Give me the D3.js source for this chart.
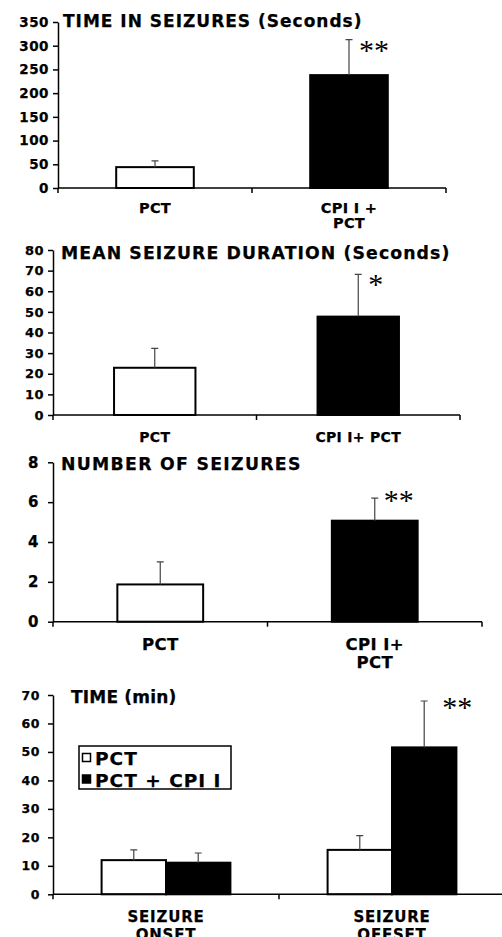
<!DOCTYPE html>
<html>
<head>
<meta charset="utf-8">
<script src="https://cdn.jsdelivr.net/npm/d3@7"></script>
<style>
  body { margin: 0; background: #fff; }
  svg text { font-family: "DejaVu Sans", sans-serif; font-weight: bold; fill: #000; stroke: #000; stroke-width: 0.25; }
  .axis path, .axis line { stroke: #000; stroke-width: 1.5; }
  svg text.star { font-family: "Liberation Serif", serif; font-weight: normal; stroke: none; }
</style>
</head>
<body>
<script>
// panel 1 - time in seizures (seconds)
const timeCats = ["PCT", "CPI I +|PCT"];
const timeMean = [44, 238];
const timeSem = [13, 75];
const timeSig = ["", "**"];
const timeTicks = [0, 50, 100, 150, 200, 250, 300, 350];

// panel 2 - mean seizure duration (seconds)
const durCats = ["PCT", "CPI I+ PCT"];
const durMean = [22.9, 47.7];
const durSem = [9.4, 20.5];
const durSig = ["", "*"];
const durTicks = [0, 10, 20, 30, 40, 50, 60, 70, 80];

// panel 3 - number of seizures
const numCats = ["PCT", "CPI I+|PCT"];
const numMean = [1.87, 5.07];
const numSem = [1.13, 1.13];
const numSig = ["", "**"];
const numTicks = [0, 2, 4, 6, 8];

// panel 4 - onset / offset time (min)
const onsetCats = ["SEIZURE|ONSET", "SEIZURE|OFFSET"];
const seriesNames = ["PCT", "PCT + CPI I"];
const pctMean = [12.0, 15.6];
const pctSem = [3.6, 5.0];
const cpiMean = [11.1, 51.6];
const cpiSem = [3.4, 16.3];
const onsetSig = [["", ""], ["", "**"]];
const onsetTicks = [0, 10, 20, 30, 40, 50, 60, 70];

const W = 502, H = 937;
const svg = d3.select("body").append("svg").attr("width", W).attr("height", H);

const panels = [
  {
    title: "TIME IN SEIZURES (Seconds)", cats: timeCats, ticks: timeTicks,
    series: [{ fill: "#fff", mean: timeMean, sem: timeSem }],
    sig: timeCats.map((c, i) => [timeSig[i]]),
    xr: [58, 446], yr: [188, 22], pad: 0.6,
    titleX: 63, titleY: 27, titleSize: 17, titleLs: 1.0,
    tickSize: 13.5, tickLs: 0.5, tickPad: 4, labSize: 14.5, labLs: 0.3, labDy: 25, labLh: 14.5,
    starDx: 10, starDy: 20, starSize: 30
  },
  {
    title: "MEAN SEIZURE DURATION (Seconds)", cats: durCats, ticks: durTicks,
    series: [{ fill: "#fff", mean: durMean, sem: durSem }],
    sig: durCats.map((c, i) => [durSig[i]]),
    xr: [53, 460], yr: [415, 250], pad: 0.6,
    titleX: 61, titleY: 259, titleSize: 17.3, titleLs: 1.1,
    tickSize: 13, tickLs: 0.5, tickPad: 4, labSize: 14, labLs: 0.3, labDy: 27, labLh: 14,
    starDx: 10, starDy: 20, starSize: 30
  },
  {
    title: "NUMBER OF SEIZURES", cats: numCats, ticks: numTicks,
    series: [{ fill: "#fff", mean: numMean, sem: numSem }],
    sig: numCats.map((c, i) => [numSig[i]]),
    xr: [53, 482], yr: [621.7, 462.3], pad: 0.6,
    titleX: 61, titleY: 470, titleSize: 17.3, titleLs: 1.3,
    tickSize: 15, tickLs: 0.5, tickPad: 9, labSize: 16.5, labLs: 0.4, labDy: 28, labLh: 18,
    starDx: 9, starDy: 12, starSize: 30
  },
  {
    title: "TIME (min)", cats: onsetCats, ticks: onsetTicks,
    series: [
      { name: seriesNames[0], fill: "#fff", mean: pctMean, sem: pctSem },
      { name: seriesNames[1], fill: "#000", mean: cpiMean, sem: cpiSem }
    ],
    sig: onsetSig,
    xr: [53, 505], yr: [894.3, 695], pad: 0.43,
    titleX: 71, titleY: 703, titleSize: 17, titleLs: 0.2,
    tickSize: 12.5, tickLs: 0.6, tickPad: 8, labSize: 15, labLs: 0.8, labDy: 28, labLh: 18,
    starDx: 18, starDy: 16, starSize: 30,
    legend: { x: 79, y: 746, w: 152, h: 43 }
  }
];

panels.forEach(p => {
  const g = svg.append("g");
  const yMax = p.ticks[p.ticks.length - 1];
  const y = d3.scaleLinear().domain([0, yMax]).range(p.yr);
  const x0 = d3.scaleBand().domain(p.cats).range(p.xr)
    .paddingInner(p.pad).paddingOuter(p.pad / 2);
  const nS = p.series.length;
  const x1 = d3.scaleBand().domain(d3.range(nS)).range([0, x0.bandwidth()]);
  // single-series panels: white first bar, black second bar
  const fillFor = (si, ci) => nS === 1 ? (ci === 0 ? "#fff" : "#000") : p.series[si].fill;

  // bars
  p.series.forEach((s, si) => {
    g.selectAll(null).data(p.cats).join("rect")
      .attr("x", c => x0(c) + x1(si))
      .attr("y", (c, ci) => y(s.mean[ci]))
      .attr("width", x1.bandwidth())
      .attr("height", (c, ci) => y(0) - y(s.mean[ci]))
      .attr("fill", (c, ci) => fillFor(si, ci))
      .attr("stroke", "#000").attr("stroke-width", 2);

    // error whiskers (upper only)
    const cx = c => x0(c) + x1(si) + x1.bandwidth() / 2;
    g.selectAll(null).data(p.cats).join("path")
      .attr("d", (c, ci) => {
        const top = y(s.mean[ci] + s.sem[ci]), bot = y(s.mean[ci]);
        return `M${cx(c)},${bot}V${top}M${cx(c) - 3.5},${top}H${cx(c) + 3.5}`;
      })
      .attr("fill", "none").attr("stroke", "#444").attr("stroke-width", 1.2);

    // significance marks
    g.selectAll(null).data(p.cats).join("text")
      .attr("class", "star")
      .attr("x", c => cx(c) + p.starDx)
      .attr("y", (c, ci) => y(s.mean[ci] + s.sem[ci]) + p.starDy)
      .style("font-size", p.starSize + "px")
      .text((c, ci) => p.sig[ci][si]);
  });

  // y axis
  const ya = g.append("g").attr("class", "axis")
    .attr("transform", `translate(${p.xr[0]},0)`)
    .call(d3.axisLeft(y).tickValues(p.ticks).tickSize(5).tickSizeOuter(0).tickPadding(p.tickPad));
  ya.attr("font-family", null);
  ya.selectAll("text").style("font-size", p.tickSize + "px").style("letter-spacing", p.tickLs + "px");

  // x axis: baseline with ticks at category boundaries
  const y0 = y(0);
  g.append("line").attr("x1", p.xr[0]).attr("x2", p.xr[1]).attr("y1", y0).attr("y2", y0)
    .attr("stroke", "#000").attr("stroke-width", 1.5);
  const bounds = [p.xr[0]].concat(p.cats.map(c => x0(c) + x0.bandwidth() / 2 + x0.step() / 2));
  g.selectAll(null).data(bounds).join("line")
    .attr("x1", d => d).attr("x2", d => d).attr("y1", y0).attr("y2", y0 + 5)
    .attr("stroke", "#000").attr("stroke-width", 1.5);

  // category labels
  const lab = g.selectAll(null).data(p.cats).join("text")
    .attr("text-anchor", "middle")
    .attr("y", y0 + p.labDy)
    .style("font-size", p.labSize + "px")
    .style("letter-spacing", p.labLs + "px");
  lab.selectAll("tspan").data(c => c.split("|").map(t => [c, t])).join("tspan")
    .attr("x", d => x0(d[0]) + x0.bandwidth() / 2)
    .attr("dy", (d, i) => i ? p.labLh : 0)
    .text(d => d[1]);

  // title
  g.append("text").attr("x", p.titleX).attr("y", p.titleY)
    .style("font-size", p.titleSize + "px").style("letter-spacing", p.titleLs + "px")
    .text(p.title);

  // legend
  if (p.legend) {
    const L = p.legend;
    const lg = g.append("g").attr("transform", `translate(${L.x},${L.y})`);
    lg.append("rect").attr("width", L.w).attr("height", L.h)
      .attr("fill", "#fff").attr("stroke", "#000").attr("stroke-width", 1.5);
    const row = lg.selectAll(null).data(p.series).join("g")
      .attr("transform", (d, i) => `translate(0,${19 + i * 21.5})`);
    row.append("rect").attr("x", 3.5).attr("y", -11.5).attr("width", 8).attr("height", 8)
      .attr("fill", d => d.fill).attr("stroke", "#000").attr("stroke-width", 1.5);
    row.append("text").attr("x", 16).attr("y", 0)
      .style("font-size", "18.5px").style("letter-spacing", "1px")
      .text(d => d.name);
  }
});
</script>
</body>
</html>
